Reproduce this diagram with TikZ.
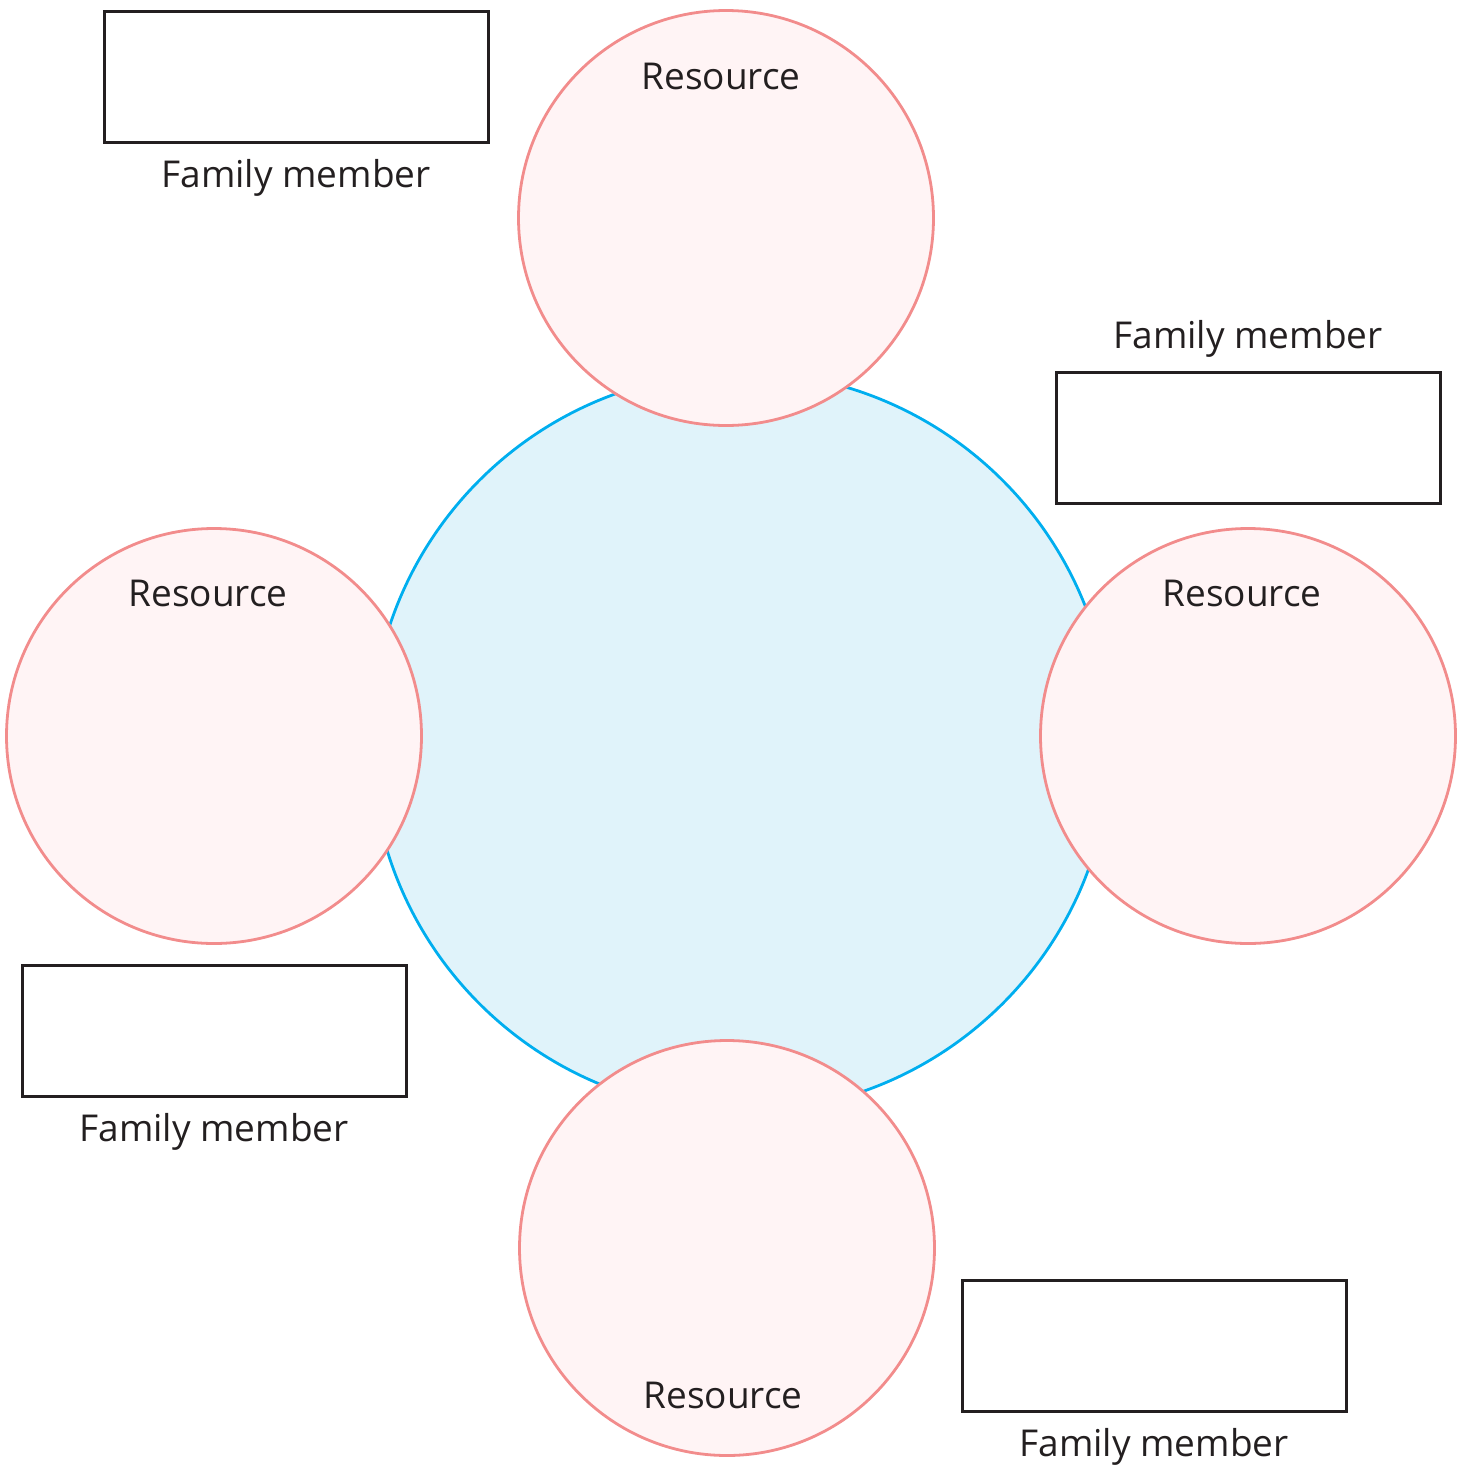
\documentclass[tikz,border=0pt]{standalone}
\usepackage{fontspec}
\setmainfont{Open Sans}
\definecolor{hubline}{RGB}{0,174,239}
\definecolor{hubfill}{RGB}{224,243,250}
\definecolor{resline}{RGB}{242,140,140}
\definecolor{resfill}{RGB}{255,244,245}
\definecolor{boxline}{RGB}{35,31,32}
\definecolor{txt}{RGB}{35,31,32}
\tikzset{
  hub/.style={circle, draw=hubline, fill=hubfill, line width=2.8pt, minimum size=740pt, inner sep=0pt},
  resource/.style={circle, draw=resline, fill=resfill, line width=2.8pt, minimum size=415pt, inner sep=0pt},
  famrect/.style={draw=boxline, fill=white, line width=3pt, minimum width=384pt, minimum height=131pt, inner sep=0pt},
  lbl/.style={anchor=base, text=txt, font=\fontsize{37}{44}\selectfont, inner sep=0pt}
}
\begin{document}
\begin{tikzpicture}[x=1pt, y=-1pt]
\useasboundingbox (0,0) rectangle (1468,1465);
\node[hub] (hub) at (741,742) {};
\node[resource] (rtop) at (726,218) {};
\node[resource] (rleft) at (214,736) {};
\node[resource] (rright) at (1248,736) {};
\node[resource] (rbottom) at (727,1248) {};
\node[lbl] (ltop) at (721,89) {Resource};
\node[lbl] (lleft) at (208,606) {Resource};
\node[lbl] (lright) at (1242,606) {Resource};
\node[lbl] (lbottom) at (723,1408) {Resource};
\node[famrect] (ftl) at (296,77) {};
\node[famrect] (fr) at (1248,438) {};
\node[famrect] (flb) at (214,1030.5) {};
\node[famrect] (fbr) at (1154,1346) {};
\node[lbl] (tftl) at (296,187) {Family member};
\node[lbl] (tfr) at (1248,348) {Family member};
\node[lbl] (tflb) at (214,1141) {Family member};
\node[lbl] (tfbr) at (1154,1456) {Family member};
\end{tikzpicture}
\end{document}
